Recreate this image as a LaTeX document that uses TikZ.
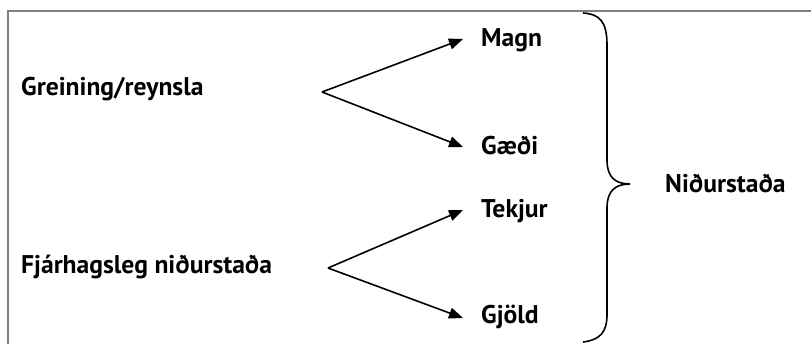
\documentclass[tikz,border=0pt]{standalone}
\usepackage{fontspec}
\setmainfont{PT Sans}
\usetikzlibrary{arrows.meta}
\tikzset{
  lbl/.style={font=\bfseries\fontsize{25.6}{28}\selectfont, inner sep=0pt, anchor=west},
  branch/.style={line width=1.6pt, -{Triangle[length=14pt,width=11pt]}},
}
\begin{document}
\begin{tikzpicture}[x=1pt,y=-1pt]
  \useasboundingbox (0,0) rectangle (811,343);
  % outer frame, running off the right and bottom edges
  \draw[line width=2pt, color=black!50] (8,360) -- (8,11) -- (830,11);

  % left-hand sources
  \node[lbl] (gr) at (21,89) {Greining/reynsla};
  \node[lbl] (fj) at (21,267) {Fjárhagsleg niðurstaða};

  % branch points
  \coordinate (b1) at (322,92);
  \coordinate (b2) at (328,268);

  % right-hand items
  \node[lbl] (magn) at (481,40) {Magn};
  \node[lbl] (gaedi) at (481,146) {Gæði};
  \node[lbl] (tekjur) at (481,211) {Tekjur};
  \node[lbl] (gjold) at (481,317) {Gjöld};

  \draw[branch] (b1) -- ([xshift=-18pt,yshift=1pt]magn.west);
  \draw[branch] (b1) -- ([xshift=-18pt,yshift=-1pt]gaedi.west);
  \draw[branch] (b2) -- ([xshift=-18pt,yshift=1pt]tekjur.west);
  \draw[branch] (b2) -- ([xshift=-18pt,yshift=-1pt]gjold.west);

  % closing brace
  \coordinate (tip) at (630,184);
  \draw[line width=1.6pt]
    (583,13) .. controls (600,14) and (607,22) .. (607,45)
    -- (607,160) .. controls (607,177) and (615,184) .. (tip)
    .. controls (615,184) and (607,191) .. (607,208)
    -- (607,315) .. controls (607,332) and (600,340) .. (583,342);

  \node[lbl] (nid) at (665,184) {Niðurstaða};
\end{tikzpicture}
\end{document}
